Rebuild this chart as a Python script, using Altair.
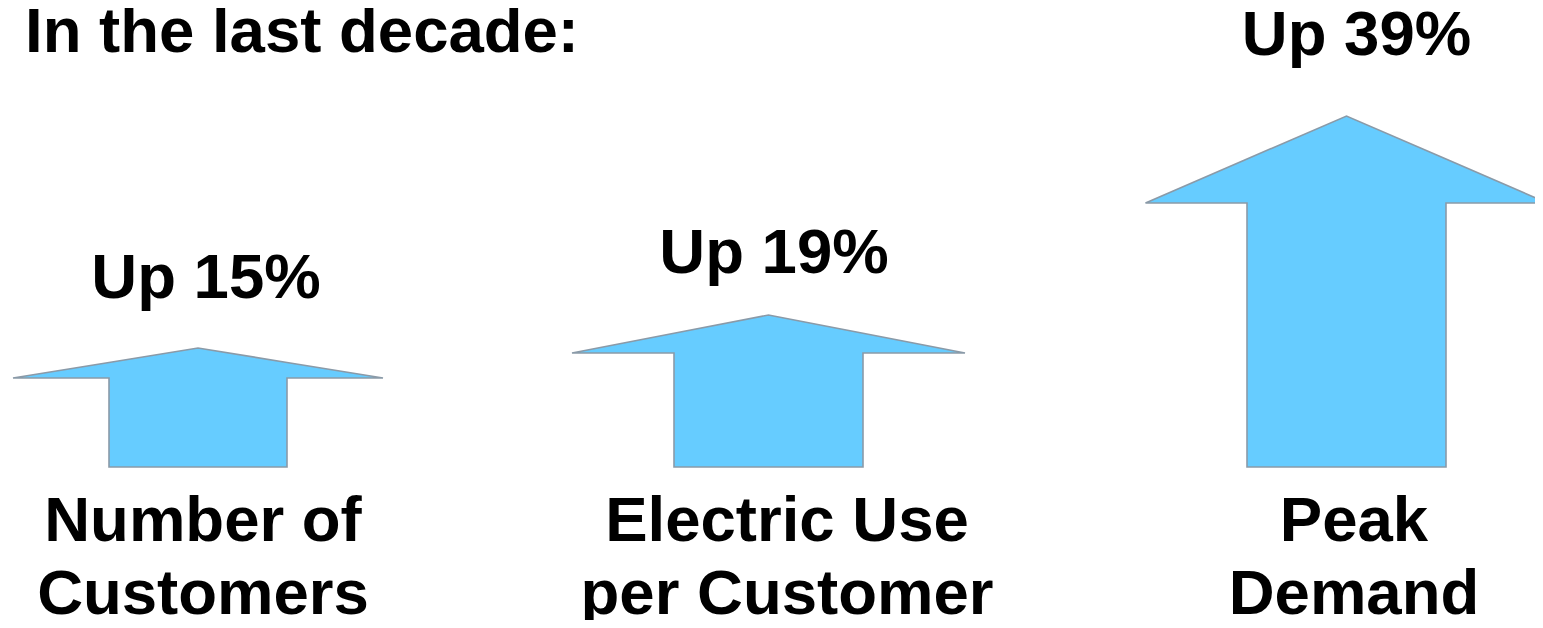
import altair as alt
import pandas as pd

# ---- data ----
title_text = "In the last decade:"
categories = [["Number of", "Customers"], ["Electric Use", "per Customer"], ["Peak", "Demand"]]
changes = [15, 19, 39]                 # percent increase

# arrow geometry (chart units: x to the right, y upward from bottom of chart)
arrow_center = [190, 760.5, 1338.5]
shaft_half = [89, 94.5, 99.5]
head_half = [185, 196.5, 201]
arrow_base = [153, 153, 153]
head_base = [242, 267, 417]
arrow_tip = [272, 305, 504]

# label anchors (chart units)
pct_x = [198, 766, 1348.5]
pct_y = [322, 347, 565]
cat_x = [195, 779, 1346]
cat_y = [79, 79, 79]
line_gap = 73
title_x, title_y = 17, 568

W, H = 1527, 612
FILL = "#66CCFF"
STROKE = "#8A9AA8"
FONT = "Liberation Sans"
FS = 63.5

# ---- build arrow outlines as closed areas ----
rows = []
for i in range(3):
    cx, sh, hh = arrow_center[i], shaft_half[i], head_half[i]
    b, hb, t = arrow_base[i], head_base[i], arrow_tip[i]
    s = lambda x: hb + (t - hb) * (1 - abs(x - cx) / hh)
    pts = [
        (cx - hh, hb, hb),
        (cx - sh, s(cx - sh), hb),
        (cx - sh, s(cx - sh), b),
        (cx, t, b),
        (cx + sh, s(cx + sh), b),
        (cx + sh, s(cx + sh), hb),
        (cx + hh, hb, hb),
    ]
    for k, (x, y, y2) in enumerate(pts):
        rows.append({"arrow": i, "k": k, "x": x, "y": y, "y2": y2})
arrows = pd.DataFrame(rows)

xs = alt.Scale(domain=[0, W], nice=False, zero=False)
ys = alt.Scale(domain=[0, H], nice=False, zero=False)

area = alt.Chart(arrows).mark_area(
    orient="vertical", fill=FILL, stroke=STROKE, strokeWidth=1.6,
    fillOpacity=1, strokeJoin="miter", interpolate="linear"
).encode(
    x=alt.X("x:Q", scale=xs, axis=None),
    y=alt.Y("y:Q", scale=ys, axis=None, stack=None),
    y2="y2:Q",
    detail="arrow:N",
)

pct_df = pd.DataFrame({
    "x": pct_x, "y": pct_y, "t": [f"Up {v}%" for v in changes]
})
cat_rows = []
for i, lines in enumerate(categories):
    for j, ln in enumerate(lines):
        cat_rows.append({"x": cat_x[i], "y": cat_y[i] - j * line_gap, "t": ln})
cat_df = pd.DataFrame(cat_rows)
title_df = pd.DataFrame({"x": [title_x], "y": [title_y], "t": [title_text]})

def text_layer(df, align):
    return alt.Chart(df).mark_text(
        font=FONT, fontWeight="bold", fontSize=FS, color="#000000",
        align=align, baseline="alphabetic"
    ).encode(
        x=alt.X("x:Q", scale=xs, axis=None),
        y=alt.Y("y:Q", scale=ys, axis=None),
        text="t:N",
    )

chart = alt.layer(
    area,
    text_layer(pct_df, "center"),
    text_layer(cat_df, "center"),
    text_layer(title_df, "left"),
).properties(
    width=W, height=H, padding=0,
    autosize=alt.AutoSizeParams(type="none"),
).configure_view(stroke=None)

chart.save("out.html", embed_options={"renderer": "svg", "actions": False})
